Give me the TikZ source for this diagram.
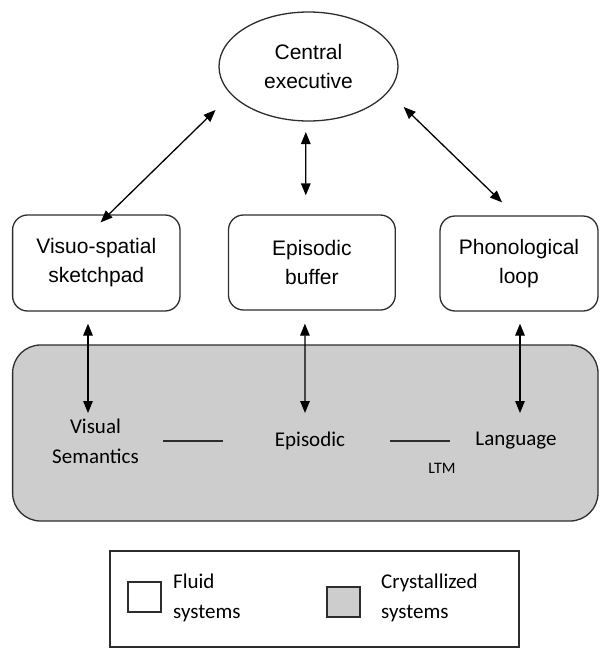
\documentclass[tikz,border=0pt]{standalone}
\usepackage{fontspec}
\setmainfont{Liberation Sans}
\newfontfamily\carlfont{Carlito}
\usetikzlibrary{arrows.meta,shapes.geometric}
\definecolor{ltmgray}{RGB}{205,205,205}
\definecolor{edge}{RGB}{45,45,45}
\tikzset{
  biarrow/.style={{Triangle[length=12pt,width=9.5pt]}-{Triangle[length=12pt,width=9.5pt]}, line width=1.3pt, black},
  fluidbox/.style={draw=edge, line width=1.3pt, rounded corners=15pt, align=center, inner sep=0pt,
     font=\fontsize{21}{29}\selectfont},
  ltmtext/.style={align=center, inner sep=0pt, font=\carlfont\fontsize{21}{30}\selectfont},
  legtext/.style={align=left, anchor=west, inner sep=0pt, font=\carlfont\fontsize{21}{30}\selectfont},
}
\begin{document}
\begin{tikzpicture}[x=1pt,y=-1pt]
\useasboundingbox (0,0) rectangle (600,648);
% LTM region
\draw[draw=edge, line width=1.3pt, fill=ltmgray, rounded corners=28pt] (12.6,345) rectangle (598,521);
% central executive
\node[ellipse, draw=edge, line width=1.3pt, minimum width=179pt, minimum height=109pt, inner sep=0pt,
      align=center, font=\fontsize{21}{29}\selectfont] (ce) at (308.5,66.5) {Central\\executive};
% fluid boxes
\node[fluidbox, minimum width=167.4pt, minimum height=96pt] (vs) at (96.3,263) {Visuo-spatial\\sketchpad};
\node[fluidbox, minimum width=166.8pt, minimum height=95pt] (eb) at (311.9,262.5) {Episodic\\buffer};
\node[fluidbox, minimum width=158pt, minimum height=95pt] (pl) at (519,263.5) {Phonological\\loop};
% LTM contents
\node[ltmtext] (vis) at (95.5,441) {Visual\\Semantics};
\node[ltmtext] (epi) at (310,441) {Episodic};
\node[ltmtext] (lang) at (516,441) {Language};
\node[inner sep=0pt, font=\carlfont\fontsize{16}{18}\selectfont] (ltm) at (442,468) {LTM};
\draw[line width=1.3pt, edge] ([xshift=-147pt]epi.center) -- ([xshift=-87pt]epi.center);
\draw[line width=1.3pt, edge] ([xshift=80pt]epi.center) -- ([xshift=140pt]epi.center);
% arrows to central executive
\draw[biarrow] ([shift={(4.3,8)}]vs.north) -- ([shift={(-93,43.5)}]ce.center);
\draw[biarrow] ([shift={(-6.1,-19)}]eb.north) -- ([shift={(-2.7,65.5)}]ce.center);
\draw[biarrow] ([shift={(-17,-13)}]pl.north) -- ([shift={(95.2,40.5)}]ce.center);
% arrows to LTM
\draw[biarrow] ([shift={(-8.3,12)}]vs.south) -- ([shift={(-7.5,-28)}]vis.center);
\draw[biarrow] ([shift={(-7,13)}]eb.south) -- ([shift={(-5,-28)}]epi.center);
\draw[biarrow] ([shift={(1,12)}]pl.south) -- ([shift={(4,-28)}]lang.center);
% legend
\draw[draw=edge, line width=1.3pt] (110,551) rectangle (519,647);
\node[draw=edge, line width=1.3pt, fill=white, minimum width=33pt, minimum height=30pt, inner sep=0pt] (fsq) at (144.5,597) {};
\node[legtext] (ftx) at (173,598) {Fluid\\systems};
\node[draw=edge, line width=1.3pt, fill=ltmgray, minimum width=33pt, minimum height=30pt, inner sep=0pt] (csq) at (343.5,602) {};
\node[legtext] (ctx) at (381,597.5) {Crystallized\\systems};
\end{tikzpicture}
\end{document}
